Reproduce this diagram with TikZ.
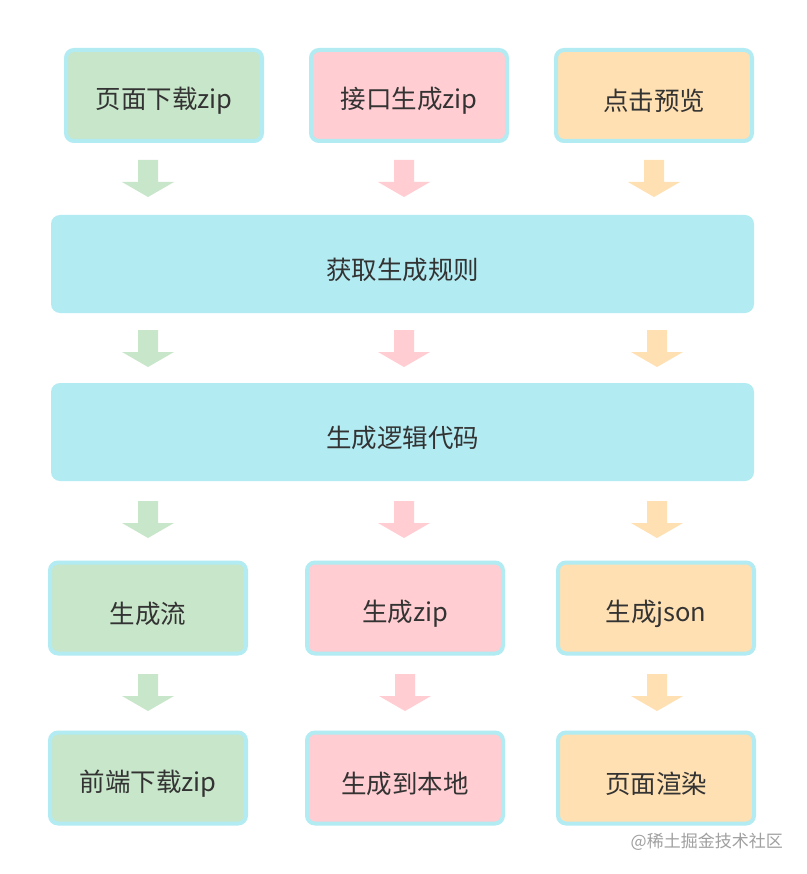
\documentclass[tikz,border=0pt]{standalone}
\usepackage{fontspec}
\setmainfont{Noto Sans CJK SC}
\newfontfamily\wmfont{Noto Sans CJK SC}
\definecolor{gfill}{HTML}{C8E6C9}
\definecolor{pfill}{HTML}{FFCDD2}
\definecolor{ofill}{HTML}{FFE0B2}
\definecolor{cfill}{HTML}{B2EBF2}
\definecolor{txt}{HTML}{333333}
\definecolor{wm}{HTML}{A0A0A0}
\newcommand{\blockarrow}[3]{% color, center x, top y
  \fill[#1] (#2-10,#3) -- (#2+10,#3) -- (#2+10,#3+22) -- (#2+26,#3+22)
    -- (#2,#3+37) -- (#2-26,#3+22) -- (#2-10,#3+22) -- cycle;}
\newcommand{\lowtext}[1]{\raisebox{-5.5pt}[\height][\depth]{#1}}
\tikzset{
  smallbox/.style={draw=cfill, line width=4pt, rounded corners=8pt,
    minimum width=196pt, minimum height=91pt, inner sep=0pt,
    text=txt, font=\fontsize{25.5}{28}\selectfont},
  bigbox/.style={fill=cfill, rounded corners=9pt,
    minimum width=703pt, minimum height=98pt, inner sep=0pt,
    text=txt, font=\fontsize{25.5}{28}\selectfont},
}
\begin{document}
\begin{tikzpicture}[x=1pt,y=-1pt]
\useasboundingbox[fill=white] (0,0) rectangle (806,874);
% top row
\node[smallbox, fill=gfill] (a1) at (164,95.5) {\lowtext{页面下载zip}};
\node[smallbox, fill=pfill] (a2) at (409,95.5) {\lowtext{接口生成zip}};
\node[smallbox, fill=ofill] (a3) at (654,95.5) {\lowtext{点击预览}};
% arrows row 1
\blockarrow{gfill}{148}{160}
\blockarrow{pfill}{404}{160}
\blockarrow{ofill}{654}{160}
% big boxes
\node[bigbox] (b1) at (402.5,264) {\lowtext{获取生成规则}};
\blockarrow{gfill}{148}{330}
\blockarrow{pfill}{404}{330}
\blockarrow{ofill}{657}{330}
\node[bigbox] (b2) at (402.5,432) {\lowtext{生成逻辑代码}};
\blockarrow{gfill}{148}{501}
\blockarrow{pfill}{404}{501}
\blockarrow{ofill}{657}{501}
% third row
\node[smallbox, fill=gfill] (c1) at (148,608) {\lowtext{生成流}};
\node[smallbox, fill=pfill] (c2) at (405,608) {\lowtext{生成zip}};
\node[smallbox, fill=ofill] (c3) at (656,608) {\lowtext{生成json}};
\blockarrow{gfill}{148}{674}
\blockarrow{pfill}{405}{674}
\blockarrow{ofill}{657}{674}
% fourth row
\node[smallbox, fill=gfill] (d1) at (148,778) {\lowtext{前端下载zip}};
\node[smallbox, fill=pfill] (d2) at (405,778) {\lowtext{生成到本地}};
\node[smallbox, fill=ofill] (d3) at (656,778) {\lowtext{页面渲染}};
% watermark
\node[text=wm, font=\wmfont\fontsize{17}{20}\selectfont, anchor=east, inner sep=0pt] (wm) at (783,842) {@稀土掘金技术社区};
\end{tikzpicture}
\end{document}
